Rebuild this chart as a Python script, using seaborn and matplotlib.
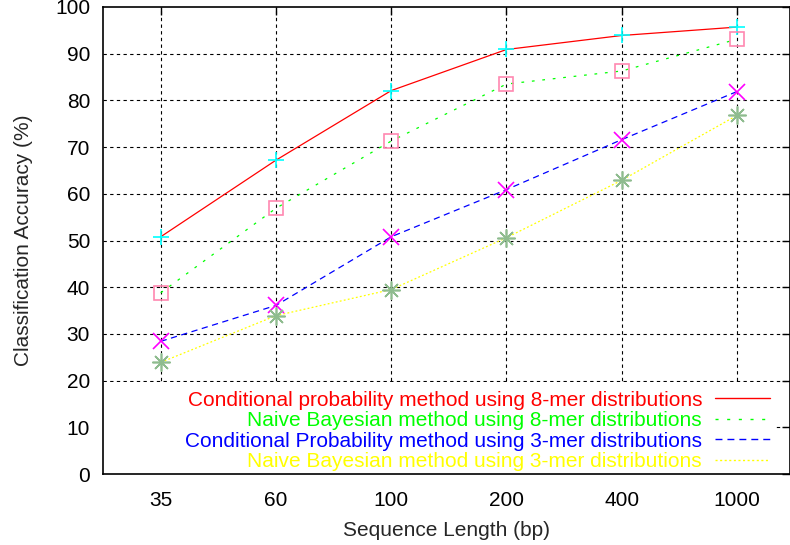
import matplotlib
matplotlib.use("Agg")
import matplotlib.pyplot as plt
import seaborn as sns
import pandas as pd
from matplotlib.lines import Line2D
from matplotlib.patches import Rectangle

lengths = ["35", "60", "100", "200", "400", "1000"]
cond8 = [50.8, 67.2, 82.1, 90.9, 93.9, 95.7]
naive8 = [38.8, 56.9, 71.3, 83.5, 86.3, 93.1]
cond3 = [28.4, 36.1, 50.8, 60.9, 71.6, 81.9]
naive3 = [23.9, 33.9, 39.5, 50.6, 62.9, 76.8]
labels = ["Conditional probability method using 8-mer distributions",
          "Naive Bayesian method using 8-mer distributions",
          "Conditional Probability method using 3-mer distributions",
          "Naive Bayesian method using 3-mer distributions"]
yticks = [0, 10, 20, 30, 40, 50, 60, 70, 80, 90, 100]

sns.set_theme(style="white")
plt.rcParams['font.family'] = ['Liberation Sans', 'DejaVu Sans']

W, H = 790, 545
FS = 15
fig = plt.figure(figsize=(W / 100, H / 100), dpi=100)
L, R, T, B = 103.3, 790, 7, 474
ax = fig.add_axes([L / W, (H - B) / H, (R - L) / W, (B - T) / H])

pos = list(range(len(lengths)))
series = [cond8, naive8, cond3, naive3]
line_colors = ["#ff0000", "#00ff00", "#0000ff", "#ffff00"]
dashes = [None, (2.2, 6.2), (5, 3.6), (1.5, 1.8)]
markers = ["+", "s", "x", (8, 2, 0)]
mcolors = ["#00ffff", "#ff88b0", "#ff00ff", "#8fbc8f"]
msizes = [12, 10, 11, 13]

# grid (gnuplot style), drawn below an opaque key box
for v in range(10, 100, 10):
    ax.axhline(v, color="black", lw=0.8, ls=(0, (3, 3)), zorder=1)
for p in pos:
    ax.axvline(p, color="black", lw=0.8, ls=(0, (3, 3)), zorder=1)
ax.add_patch(Rectangle((-0.6, 0), 5.93, 19.6, facecolor="white",
                       edgecolor="none", zorder=1.2))

for vals, lc, dsh, mk, mc, ms in zip(series, line_colors, dashes, markers, mcolors, msizes):
    df = pd.DataFrame({"x": pos, "y": vals})
    kw = {}
    if dsh is not None:
        kw["dashes"] = dsh
    sns.lineplot(data=df, x="x", y="y", ax=ax, color=lc, lw=0.9, zorder=3, **kw)
    ax.plot(df["x"], df["y"], ls="none", marker=mk, markersize=ms,
            markerfacecolor="none" if mk == "s" else mc, markeredgecolor=mc,
            markeredgewidth=1.2, zorder=4)

ax.set_axisbelow(False)
spacing = (737 - 160.7) / 5
ax.set_xlim(-(160.7 - L) / spacing, (R - 160.7) / spacing)
ax.set_ylim(0, 100)
ax.set_xticks(pos)
ax.set_xticklabels(lengths)
ax.set_yticks(yticks)
ax.tick_params(direction="in", length=6, width=1, top=True, right=True,
               labelsize=FS, colors="black")
ax.tick_params(axis="x", pad=12)
ax.tick_params(axis="y", pad=9.5)
for s in ax.spines.values():
    s.set_color("black")
    s.set_linewidth(1.2)
ax.set_xlabel("Sequence Length (bp)", fontsize=FS, labelpad=8.5)
ax.set_ylabel("Classification Accuracy (%)", fontsize=FS, labelpad=16)

handles = []
for lc, dsh in zip(line_colors, dashes):
    if dsh is None:
        handles.append(Line2D([], [], color=lc, lw=1.0))
    else:
        handles.append(Line2D([], [], color=lc, lw=1.0, dashes=dsh))
leg = ax.legend(handles, labels, loc="lower right",
                bbox_to_anchor=(770 / W, (H - 471) / H), bbox_transform=fig.transFigure,
                frameon=False, markerfirst=False, handlelength=2.64, fontsize=FS,
                labelcolor=line_colors, labelspacing=0.07, handletextpad=0.62,
                borderpad=0, borderaxespad=0)
for t in leg.get_texts():
    t.set_ha("right")
leg._legend_box.align = "right"
leg.set_zorder(5)

fig.savefig("out.png", dpi=100)
